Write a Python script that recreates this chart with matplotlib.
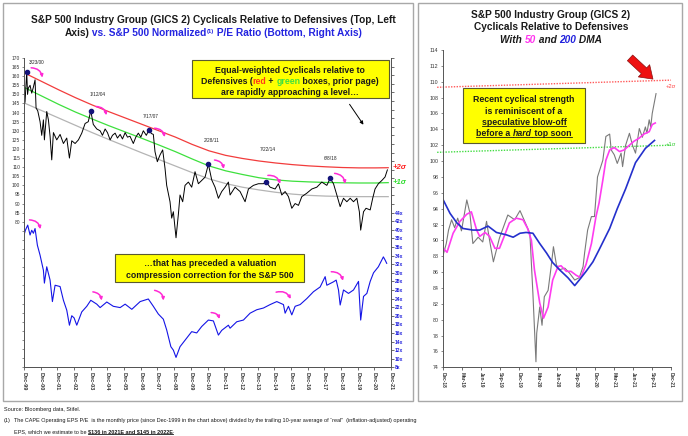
import numpy as np
import matplotlib
matplotlib.use("Agg")
import matplotlib.pyplot as plt
from matplotlib.patches import Rectangle, FancyArrowPatch
from matplotlib.lines import Line2D
from matplotlib.font_manager import FontProperties
from matplotlib.ticker import FixedLocator, FuncFormatter

FAM = ["Liberation Sans", "DejaVu Sans"]
NARROW = ["Liberation Sans Narrow", "Liberation Sans", "DejaVu Sans"]
plt.rcParams["font.family"] = FAM

# ---------------- data: left panel ----------------
cyc_years = [1999.92, 1999.98, 2000.08, 2000.13, 2000.18, 2000.28, 2000.38, 2000.48, 2000.58, 2000.64,
             2000.74, 2000.88, 2000.98, 2001.08, 2001.14, 2001.28, 2001.38, 2001.48, 2001.58, 2001.68,
             2001.88, 2002.08, 2002.28, 2002.48, 2002.64, 2002.78, 2002.98, 2003.18, 2003.38, 2003.58,
             2003.77, 2003.92, 2004.07, 2004.28, 2004.48, 2004.62, 2004.78, 2004.92, 2005.08, 2005.22,
             2005.38, 2005.52, 2005.68, 2005.82, 2005.98, 2006.12, 2006.27, 2006.47, 2006.62, 2006.77,
             2006.92, 2007.07, 2007.25, 2007.41, 2007.55, 2007.67, 2007.77, 2007.91, 2008.07, 2008.23,
             2008.37, 2008.47, 2008.67, 2008.77, 2008.87, 2009.03, 2009.17, 2009.27, 2009.43, 2009.57,
             2009.77, 2009.97, 2010.17, 2010.37, 2010.57, 2010.77, 2010.97, 2011.17, 2011.37, 2011.57,
             2011.77, 2011.97, 2012.17, 2012.27, 2012.57, 2012.87, 2013.17, 2013.37, 2013.67, 2013.97,
             2014.27, 2014.43, 2014.67, 2014.97, 2015.17, 2015.37, 2015.57, 2015.77, 2015.97, 2016.17,
             2016.37, 2016.57, 2016.87, 2017.17, 2017.47, 2017.77, 2018.07, 2018.27, 2018.47, 2018.67,
             2018.87, 2019.07, 2019.27, 2019.47, 2019.67, 2019.87, 2020.02, 2020.10, 2020.27, 2020.42,
             2020.67, 2020.82, 2020.96, 2021.16, 2021.37, 2021.56, 2021.70]
cyc_vals = [143.5, 146.0, 162.3, 150.0, 153.5, 155.0, 150.7, 154.0, 158.0, 142.5,
            141.0, 135.0, 127.5, 136.0, 125.0, 140.6, 136.0, 127.0, 114.0, 129.0,
            125.0, 128.0, 123.0, 126.0, 115.0, 124.5, 123.0, 125.0, 128.7, 134.0,
            135.0, 141.0, 133.5, 131.0, 130.0, 127.5, 131.0, 129.0, 125.0, 127.5,
            128.7, 126.0, 128.0, 125.5, 129.0, 126.5, 127.0, 123.0, 126.5, 128.7,
            126.5, 130.0, 127.5, 130.5, 128.5, 128.0, 118.5, 113.0, 116.7, 119.5,
            109.4, 100.0, 91.0, 82.0, 85.5, 71.2, 84.0, 94.7, 91.0, 100.0,
            101.8, 99.0, 107.5, 100.9, 102.7, 104.5, 111.6, 103.0, 99.0, 92.9,
            96.6, 99.0, 101.8, 94.7, 99.0, 96.6, 91.0, 98.0, 100.0, 100.9,
            100.9, 101.9, 99.0, 98.0, 100.9, 94.7, 96.6, 93.8, 87.4, 90.0,
            89.0, 93.8, 95.7, 98.0, 99.0, 101.8, 100.0, 103.8, 100.9, 94.7,
            88.3, 92.9, 91.0, 92.9, 91.0, 92.9, 85.5, 75.4, 85.5, 87.4,
            86.5, 92.9, 98.0, 100.9, 102.7, 104.6, 108.5]

pe_years = [1999.92, 2000.00, 2000.14, 2000.28, 2000.38, 2000.48, 2000.58, 2000.72, 2000.88, 2001.08,
            2001.14, 2001.28, 2001.48, 2001.62, 2001.78, 2002.08, 2002.28, 2002.48, 2002.64, 2002.78,
            2002.92, 2003.08, 2003.38, 2003.68, 2003.92, 2004.28, 2004.48, 2004.88, 2005.27, 2005.68,
            2005.98, 2006.38, 2006.88, 2007.37, 2007.67, 2007.97, 2008.27, 2008.47, 2008.72, 2008.87,
            2009.03, 2009.27, 2009.57, 2009.97, 2010.27, 2010.57, 2010.97, 2011.27, 2011.57, 2011.77,
            2012.17, 2012.27, 2012.67, 2013.07, 2013.47, 2013.87, 2014.27, 2014.67, 2015.07, 2015.47,
            2015.57, 2015.77, 2015.97, 2016.17, 2016.47, 2016.87, 2017.27, 2017.67, 2017.97, 2018.07,
            2018.47, 2018.63, 2018.77, 2018.87, 2019.07, 2019.37, 2019.67, 2019.97, 2020.10, 2020.27,
            2020.47, 2020.67, 2020.87, 2021.16, 2021.46, 2021.56, 2021.66]
pe_vals = [38.8, 39.9, 41.1, 38.8, 39.9, 39.2, 40.3, 36.4, 34.1, 30.6,
           27.6, 31.4, 28.3, 23.3, 27.1, 26.8, 23.6, 21.3, 17.8, 20.0,
           19.5, 17.8, 20.9, 22.2, 23.6, 22.7, 21.9, 23.2, 22.2, 21.9,
           22.7, 21.5, 23.3, 23.9, 22.2, 20.4, 19.2, 16.7, 12.8, 12.0,
           10.3, 12.8, 14.3, 16.3, 16.0, 17.5, 19.0, 18.8, 15.5, 16.6,
           17.8, 17.1, 18.6, 19.0, 20.6, 21.4, 21.8, 22.6, 23.3, 22.6,
           20.6, 22.2, 20.2, 22.2, 22.6, 24.0, 25.6, 26.7, 29.1, 27.1,
           27.9, 28.3, 26.0, 22.5, 26.0, 25.2, 26.0, 28.0, 19.0, 24.5,
           25.2, 28.0, 30.0, 31.4, 33.7, 33.0, 32.2]

band_years = [2000, 2001, 2002, 2003, 2004, 2005, 2006, 2007, 2008, 2009, 2010, 2011,
              2012, 2013, 2014, 2015, 2016, 2017, 2018, 2019, 2020, 2021, 2021.75]
mean_vals = [145.0, 141.0, 137.0, 133.0, 129.0, 125.2, 121.5, 117.8, 114.2, 110.6, 107.0, 103.6,
             101.0, 99.0, 97.5, 96.2, 95.2, 94.5, 94.1, 93.9, 93.8, 93.8, 93.8]
plus1_vals = [153.5, 149.0, 144.5, 140.3, 136.5, 132.8, 129.3, 125.8, 122.2, 118.5, 114.5, 110.7,
              108.0, 106.0, 104.2, 103.0, 102.3, 101.9, 101.6, 101.4, 101.3, 101.3, 101.5]
plus2_vals = [161.5, 157.0, 152.5, 148.2, 144.2, 140.5, 137.0, 133.5, 130.0, 126.5, 122.5, 119.0,
              116.5, 114.8, 113.4, 112.3, 111.4, 110.7, 110.2, 109.8, 109.6, 109.6, 109.7]

peak_years = [2000.08, 2003.92, 2007.41, 2010.97, 2014.43, 2018.27]
peak_vals = [162.3, 141.0, 130.5, 111.6, 101.9, 103.8]
peak_labels = ["3/23/00", "1/12/04", "7/17/07", "2/28/11", "7/22/14", "6/8/18"]

left_xlabels = ["Dec-%02d" % (y % 100) for y in range(1999, 2022)]

# ---------------- data: right panel ----------------
px_years = [2018.92, 2018.96, 2018.99, 2019.03, 2019.07, 2019.11, 2019.16, 2019.23, 2019.27, 2019.31,
            2019.38, 2019.44, 2019.49, 2019.53, 2019.58, 2019.66, 2019.77, 2019.86, 2019.93, 2020.01,
            2020.06, 2020.10, 2020.14, 2020.15, 2020.19, 2020.22, 2020.25, 2020.30, 2020.34, 2020.37,
            2020.41, 2020.45, 2020.52, 2020.58, 2020.65, 2020.71, 2020.76, 2020.78, 2020.82, 2020.87,
            2020.91, 2020.95, 2021.02, 2021.06, 2021.11, 2021.13, 2021.17, 2021.21, 2021.26, 2021.28,
            2021.32, 2021.37, 2021.41, 2021.45, 2021.50, 2021.54, 2021.58, 2021.60, 2021.63, 2021.65,
            2021.67, 2021.70, 2021.72]
px_vals = [88.2, 89.6, 91.3, 92.6, 91.6, 92.8, 91.2, 95.1, 93.5, 89.6,
           90.4, 89.8, 92.4, 90.0, 87.3, 90.3, 93.2, 92.6, 93.75, 92.0,
           90.9, 83.3, 74.7, 78.3, 81.6, 79.3, 82.9, 83.7, 86.7, 89.2,
           86.9, 86.3, 86.5, 85.9, 85.0, 85.3, 86.7, 88.4, 91.3, 93.0,
           93.0, 98.0, 100.1, 103.1, 103.4, 101.4, 100.8, 99.7, 101.0, 99.3,
           102.0, 103.5, 102.0, 101.0, 104.1, 103.0, 104.3, 103.5, 105.2, 104.3,
           106.0, 107.5, 108.5]

dma50_years = [2018.92, 2018.97, 2019.05, 2019.14, 2019.23, 2019.29, 2019.36, 2019.40, 2019.47, 2019.53,
               2019.60, 2019.66, 2019.73, 2019.79, 2019.88, 2019.97, 2020.03, 2020.08, 2020.12, 2020.19,
               2020.24, 2020.30, 2020.36, 2020.43, 2020.47, 2020.54, 2020.60, 2020.67, 2020.73, 2020.80,
               2020.87, 2020.93, 2020.97, 2021.02, 2021.06, 2021.11, 2021.17, 2021.24, 2021.30, 2021.37,
               2021.43, 2021.50, 2021.56, 2021.63, 2021.67, 2021.71]
dma50_vals = [89.0, 88.5, 90.9, 92.4, 93.3, 93.6, 91.3, 90.5, 91.0, 90.5,
              89.0, 89.0, 90.7, 92.2, 92.8, 92.6, 91.5, 90.0, 86.3, 82.1,
              80.2, 81.6, 85.0, 86.7, 86.8, 86.1, 86.1, 85.6, 85.3, 87.0,
              89.6, 93.0, 94.7, 97.6, 100.1, 101.4, 101.7, 101.2, 101.4, 102.0,
              102.5, 102.9, 103.4, 103.7, 104.6, 104.8]

dma200_years = [2018.92, 2019.01, 2019.10, 2019.18, 2019.31, 2019.40, 2019.51, 2019.62, 2019.75, 2019.84,
                2019.93, 2020.01, 2020.10, 2020.19, 2020.28, 2020.36, 2020.45, 2020.56, 2020.65, 2020.71,
                2020.80, 2020.89, 2020.97, 2021.11, 2021.21, 2021.32, 2021.45, 2021.58, 2021.70]
dma200_vals = [95.1, 93.4, 92.2, 91.5, 91.3, 91.3, 91.8, 91.0, 90.7, 90.4,
               90.9, 91.0, 90.9, 89.6, 88.4, 87.2, 86.3, 85.3, 84.3, 85.0,
               86.1, 87.3, 88.8, 91.5, 94.0, 96.5, 99.8, 101.6, 102.6]

sig2_right = [109.3, 110.2]
sig1_right = [101.1, 102.0]
right_xlabels = ["Dec-18", "Mar-19", "Jun-19", "Sep-19", "Dec-19", "Mar-20", "Jun-20",
                 "Sep-20", "Dec-20", "Mar-21", "Jun-21", "Sep-21", "Dec-21"]

# ---------------- figure helpers ----------------
W, H = 688, 436
fig = plt.figure(figsize=(W / 100, H / 100), dpi=100)


def fx(x):
    return x / W


def fy(y):
    return 1 - y / H


def adv(r, s, fp):
    w1 = r.get_text_width_height_descent(s + "x", fp, ismath=False)[0]
    w2 = r.get_text_width_height_descent("x", fp, ismath=False)[0]
    return w1 - w2


def rich(x, ybase, parts, size, align="center", family=FAM, weight="bold"):
    """draw a line made of differently styled pieces (pixel coords, y from top)"""
    r = fig.canvas.get_renderer()
    items = []
    for s, opts in parts:
        o = dict(color="#1a1a1a", weight=weight, style="normal", size=size, dy=0, ul=False)
        o.update(opts)
        fp = FontProperties(family=family, weight=o["weight"], style=o["style"], size=o["size"])
        items.append((s, o, fp, adv(r, s, fp)))
    total = sum(it[3] for it in items)
    x0 = x - total / 2 if align == "center" else x
    for s, o, fp, w in items:
        fig.text(fx(x0), fy(ybase - o["dy"]), s, fontproperties=fp, color=o["color"],
                 ha="left", va="baseline", parse_math=False, zorder=10)
        if o["ul"]:
            fig.add_artist(Line2D([fx(x0), fx(x0 + w)], [fy(ybase + 1.4)] * 2,
                                  color=o["color"], lw=0.6, zorder=10))
        x0 += w


def ybox(x0, y0, x1, y1):
    fig.add_artist(Rectangle((fx(x0) + 0.002, fy(y1) - 0.003), fx(x1 - x0), (y1 - y0) / H,
                             transform=fig.transFigure, fc="#9a9a9a", ec="none", zorder=3))
    fig.add_artist(Rectangle((fx(x0), fy(y1)), fx(x1 - x0), (y1 - y0) / H,
                             transform=fig.transFigure, fc="#ffff00", ec="#5a5a30", lw=0.8, zorder=4))


# panel frames
for (a, b, c, d) in [(3, 3, 413, 401), (418, 3, 682, 401)]:
    fig.add_artist(Rectangle((fx(a), fy(d)), fx(c - a), (d - b) / H, transform=fig.transFigure,
                             fc="none", ec="#a8a8a8", lw=1.0))

# ---------------- left panel ----------------
ax = fig.add_axes([fx(24), fy(367.3), (391 - 24) / W, (367.3 - 58) / H])
ax.set_xlim(1999.917, 2021.917)
ax.set_ylim(0, 170)
ax.plot(band_years, mean_vals, color="#b4b4b4", lw=0.9)
ax.plot(band_years, plus1_vals, color="#3de03d", lw=0.9)
ax.plot(band_years, plus2_vals, color="#f23c3c", lw=0.9)
ax.plot(cyc_years, cyc_vals, color="black", lw=0.7)
ax.scatter(peak_years, peak_vals, s=9, color="#14147a", zorder=5)
for yr, v, lab, dx, dv in zip(peak_years, peak_vals, peak_labels,
                              [0.6, 0.4, 0.1, 0.2, 0.1, 0.0], [5.5, 8.8, 7.3, 12.8, 17.6, 11.1]):
    ax.text(yr + dx, v + dv, lab, fontsize=3.4, ha="center", va="center", color="#222222")

ax2 = ax.twinx()
ax2.set_ylim(8, 80)
ax2.plot(pe_years, pe_vals, color="#1414e6", lw=0.8)

ax.set_xticks(1999.917 + np.arange(len(left_xlabels)))
ax.set_xticklabels(left_xlabels, rotation=-90, fontsize=4.0, fontweight="bold", color="#333333")
ax.yaxis.set_major_locator(FixedLocator(np.arange(0, 171, 5)))
ax.yaxis.set_major_formatter(FuncFormatter(lambda v, p: "%d" % v if v >= 80 else ""))
ax2.yaxis.set_major_locator(FixedLocator(np.arange(8, 81, 2)))
ax2.yaxis.set_major_formatter(FuncFormatter(lambda v, p: "%dx" % v if v <= 44 else ""))
ax.tick_params(axis="y", labelsize=3.5, length=1.8, width=0.4, pad=1, colors="#333333")
ax.tick_params(axis="x", length=2, width=0.4, pad=1.5)
ax2.tick_params(axis="y", labelsize=3.6, length=1.8, width=0.4, pad=1, labelcolor="#2020dd")
for a in (ax, ax2):
    a.spines["top"].set_visible(False)
    for s in ("left", "bottom", "right"):
        a.spines[s].set_color("#555555")
        a.spines[s].set_linewidth(0.7)
    a.patch.set_visible(False)
for lab in ax2.get_yticklabels():
    lab.set_fontweight("bold")

# magenta arcs
upper_arcs = [((2000.18, 164.6), (2001.04, 157.7)), ((2004.07, 143.3), (2004.88, 137.0)),
              ((2007.57, 131.4), (2008.37, 125.0)), ((2011.17, 114.0), (2011.9, 107.5)),
              ((2014.37, 105.3), (2015.31, 99.3)), ((2018.37, 106.7), (2019.17, 99.3))]
lower_arcs = [((2000.08, 42.3), (2000.92, 39.5)), ((2003.88, 25.6), (2004.58, 22.9)),
              ((2007.58, 26.0), (2008.27, 22.9)), ((2010.97, 20.7), (2011.67, 18.6)),
              ((2014.87, 25.3), (2015.97, 23.3)), ((2018.17, 30.2), (2019.07, 27.5))]
for a, arcs in ((ax, upper_arcs), (ax2, lower_arcs)):
    for p0, p1 in arcs:
        a.add_patch(FancyArrowPatch(p0, p1, connectionstyle="arc3,rad=-0.5", arrowstyle="-|>",
                                    mutation_scale=4, color="#ff2ad4", lw=1.1, zorder=6))

fig.text(fx(393), fy(167.7), "+2σ", color="#ff2020", fontsize=5.6, fontweight="bold",
         fontstyle="italic", va="center")
fig.text(fx(393), fy(182.7), "+1σ", color="#33dd33", fontsize=5.6, fontweight="bold",
         fontstyle="italic", va="center")

# titles
TS = 7.3
rich(213, 23, [("S&P 500 Industry Group (GICS 2) Cyclicals Relative to Defensives (Top, Left", {})], TS)
blue_t = "#2424e0"
rich(213, 36, [("Axis)", {}), (" vs. S&P 500 Normalized", {"color": blue_t}),
               ("(1)", {"color": blue_t, "size": 4.2, "dy": 3}),
               (" P/E Ratio (Bottom, Right Axis)", {"color": blue_t})], TS)

# yellow boxes
BS = 6.3
ybox(192, 60, 389, 98)
rich(290, 73, [("Equal-weighted Cyclicals relative to", {})], BS)
rich(290, 84, [("Defensives (", {}), ("red", {"color": "#ff3a1a"}), (" + ", {}),
               ("green", {"color": "#3ee03e"}), (" boxes, prior page)", {})], BS)
rich(290, 95, [("are rapidly approaching a level…", {})], BS)
fig.add_artist(FancyArrowPatch((fx(348), fy(102)), (fx(365), fy(127)), transform=fig.transFigure,
                               arrowstyle="-|>", mutation_scale=5, color="black", lw=0.7))

ybox(115, 254, 304, 282)
rich(210, 266, [("…that has preceded a valuation", {})], BS)
rich(210, 277.5, [("compression correction for the S&P 500", {})], BS)

# ---------------- right panel ----------------
rx = fig.add_axes([fx(443), fy(367.3), 228 / W, (367.3 - 50) / H])
rx.set_xlim(2018.917, 2021.917)
rx.set_ylim(74, 114)
rx.plot([2018.84, 2021.917], sig2_right, color="#ff5a5a", lw=1.0, ls=(0, (1, 1)), clip_on=False)
rx.plot([2018.84, 2021.917], sig1_right, color="#44dd44", lw=1.0, ls=(0, (1, 1)), clip_on=False)
rx.plot(px_years, px_vals, color="#7a7a7a", lw=0.8)
rx.plot(dma50_years, dma50_vals, color="#ff3cf0", lw=1.2)
rx.plot(dma200_years, dma200_vals, color="#2430cc", lw=1.2)
rx.set_xticks(2018.917 + 0.25 * np.arange(len(right_xlabels)))
rx.set_xticklabels(right_xlabels, rotation=-90, fontsize=3.4, fontweight="bold", color="#333333")
rx.set_yticks(np.arange(74, 115, 2))
rx.tick_params(axis="y", labelsize=3.8, length=1.8, width=0.4, pad=1.5, colors="#333333")
rx.tick_params(axis="x", length=2, width=0.4, pad=1.5)
for s in ("top", "right"):
    rx.spines[s].set_visible(False)
for s in ("left", "bottom"):
    rx.spines[s].set_color("#555555")
    rx.spines[s].set_linewidth(0.7)
rx.patch.set_visible(False)

fig.text(fx(666), fy(87), "+2σ", color="#ff4040", fontsize=4.2, va="center")
fig.text(fx(666), fy(145), "+1σ", color="#33cc33", fontsize=4.2, va="center")

rich(551, 18, [("S&P 500 Industry Group (GICS 2)", {})], TS)
rich(551, 30.5, [("Cyclicals Relative to Defensives", {})], TS)
it = {"style": "italic"}
rich(551, 43, [("With ", it), ("50", dict(it, color="#ff33ee")), (" and ", it),
               ("200", dict(it, color="#2020dd")), (" DMA", it)], TS)

fig.add_artist(FancyArrowPatch((fx(628), fy(56)), (fx(655), fy(81)), transform=fig.transFigure,
                               arrowstyle="simple,head_width=1.5,head_length=1.1,tail_width=0.7",
                               mutation_scale=8, fc="#ee1111", ec="#8a1010", lw=0.5))

ybox(463, 88, 585, 143)
rich(524, 102.5, [("Recent cyclical strength", {})], BS)
rich(524, 113.5, [("is reminiscent of a", {})], BS)
rich(524, 124.5, [("speculative blow-off", {"ul": True})], BS)
rich(524, 135.5, [("before a ", {"ul": True}), ("hard", {"ul": True, "style": "italic"}),
                  (" top soon", {"ul": True})], BS)

# ---------------- footnotes ----------------
FS = 4.0
rich(4, 411, [("Source: Bloomberg data, Stifel.", {})], FS, align="left", family=NARROW, weight="normal")
rich(4, 422, [("(1)", {})], FS, align="left", family=NARROW, weight="normal")
rich(14, 422, [("The CAPE Operating EPS P/E  is the monthly price (since Dec-1999 in the chart above) "
                "divided by the trailing 10-year average of \u201creal\u201d  (inflation-adjusted) operating", {})],
     FS, align="left", family=NARROW, weight="normal")
rich(14, 433, [("EPS, which we estimate to be ", {}),
               ("$136 in 2021E and $145 in 2022E", {"weight": "bold", "ul": True}), (".", {})],
     FS, align="left", family=NARROW, weight="normal")

fig.savefig("out.png", dpi=100)
